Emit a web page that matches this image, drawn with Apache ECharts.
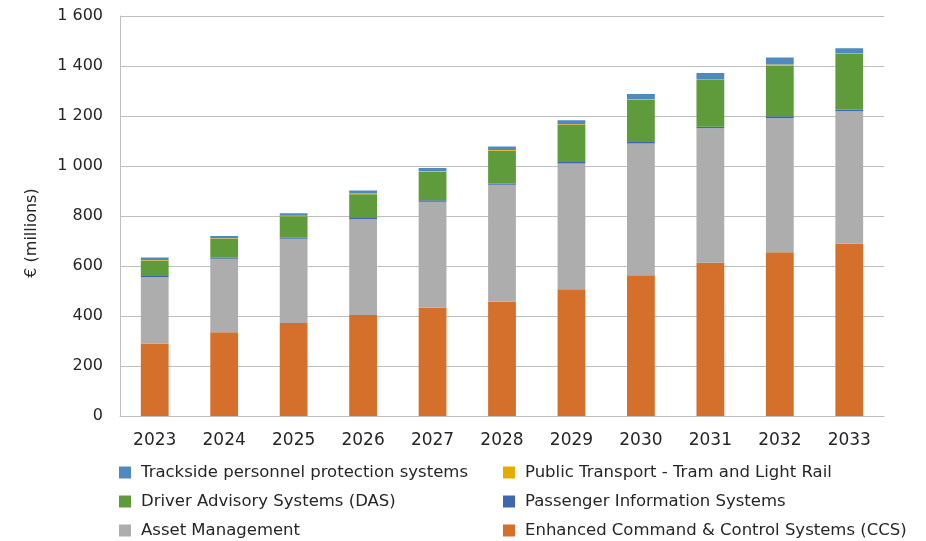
<!DOCTYPE html>
<html><head><meta charset="utf-8">
<script src="https://cdn.jsdelivr.net/npm/echarts@6/dist/echarts.min.js"></script>
<style>html,body{margin:0;padding:0;background:#fff}#c{width:926px;height:541px}</style>
</head><body><div id="c"></div>
<script>
const years = ['2023','2024','2025','2026','2027','2028','2029','2030','2031','2032','2033'];
const ccs       = [290, 335, 372, 404, 433, 457, 507, 563, 613, 655, 689];
const asset     = [265, 294, 337, 383, 424, 468, 503, 527, 538, 536, 530];
const pis       = [5, 4, 4, 5, 6, 5, 6, 6, 6, 8, 7];
const das       = [62, 76, 86, 95, 114, 131, 148, 169, 187, 203, 222];
const tram      = [2, 2, 2, 3, 3, 3, 3, 3, 4, 4, 3];
const trackside = [10, 9, 10, 12, 12, 14, 16, 20, 24, 28, 20];
const yTicks = [0, 200, 400, 600, 800, 1000, 1200, 1400, 1600];

const names = {
  track: 'Trackside personnel protection systems',
  tram: 'Public Transport - Tram and Light Rail',
  das: 'Driver Advisory Systems (DAS)',
  pis: 'Passenger Information Systems',
  asset: 'Asset Management',
  ccs: 'Enhanced Command & Control Systems (CCS)'
};
const colors = {track:'#4f89c0', tram:'#e5ac00', das:'#5f9a3b', pis:'#3d67b0', asset:'#adadad', ccs:'#d4702b'};
const FONT = 'DejaVu Sans';
function ser(key, data){
  return {name:names[key], type:'bar', stack:'s', data:data, barWidth:'40%',
    itemStyle:{color:colors[key]}, emphasis:{disabled:true}};
}
const chart = echarts.init(document.getElementById('c'));
const legText = {fontFamily:FONT, fontSize:16.5, color:'#262626', padding:[0,0,0,5]};
chart.setOption({
  animation:false,
  textStyle:{fontFamily:FONT},
  grid:{left:120, right:42, top:16, bottom:125, containLabel:false},
  legend:[
    {left:114, top:459, height:100, orient:'vertical', itemGap:12, itemWidth:12, itemHeight:12, icon:'rect', textStyle:legText,
      data:[names.track, names.das, names.asset]},
    {left:498, top:459, height:100, orient:'vertical', itemGap:12, itemWidth:12, itemHeight:12, icon:'rect', textStyle:legText,
      data:[names.tram, names.pis, names.ccs]}
  ],
  xAxis:{type:'category', data:years,
    axisLine:{show:true, lineStyle:{color:'#bfbfbf'}}, axisTick:{show:false},
    axisLabel:{fontFamily:FONT, fontSize:17, color:'#262626', margin:16}},
  yAxis:{type:'value', min:yTicks[0], max:yTicks[yTicks.length-1], interval:200,
    name:'€ (millions)', nameLocation:'middle', nameGap:80, nameRotate:90,
    nameTextStyle:{fontFamily:FONT, fontSize:16, color:'#262626', padding:[0,34,0,0]},
    axisLine:{show:true, lineStyle:{color:'#bfbfbf'}}, axisTick:{show:false},
    splitLine:{lineStyle:{color:'#bfbfbf', width:1}},
    axisLabel:{fontFamily:FONT, fontSize:16, color:'#262626', margin:17,
      formatter:v=>String(v).replace(/\B(?=(\d{3})+(?!\d))/g,' ')}},
  series:[ser('ccs',ccs), ser('asset',asset), ser('pis',pis), ser('das',das), ser('tram',tram), ser('track',trackside)]
});
</script></body></html>
